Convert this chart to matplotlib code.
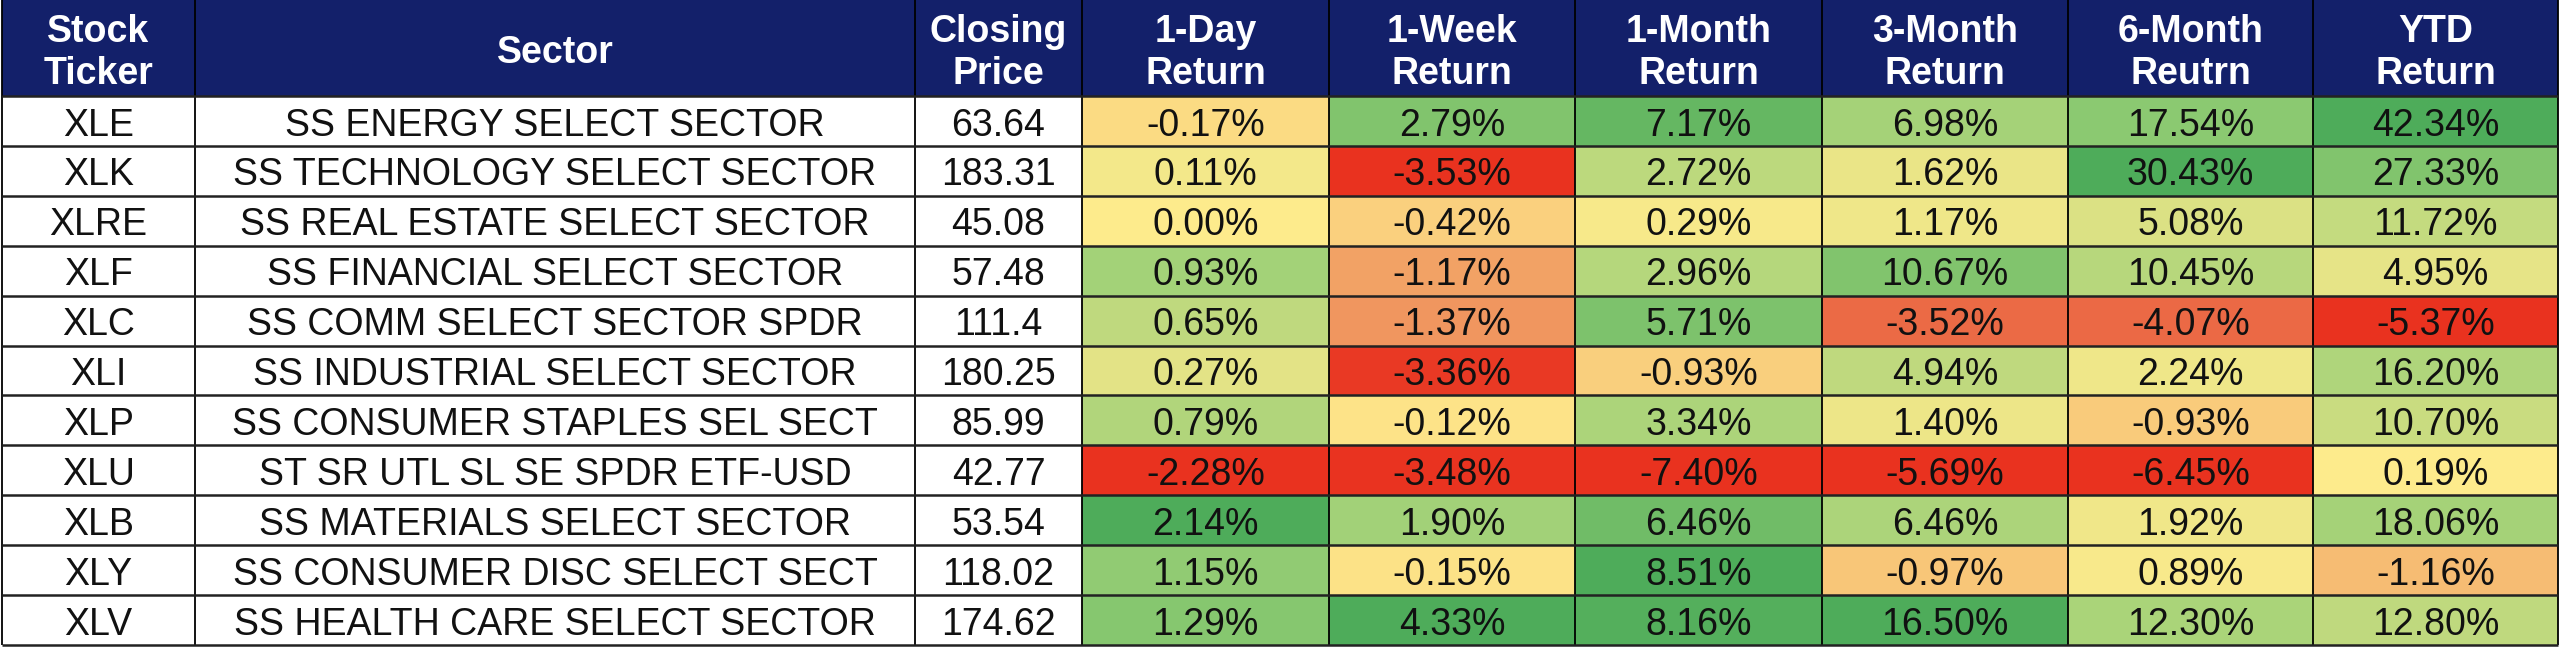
import matplotlib.pyplot as plt
from matplotlib.colors import LinearSegmentedColormap, TwoSlopeNorm
from matplotlib.patches import Rectangle

plt.rcParams['font.family'] = ['Liberation Sans', 'DejaVu Sans']

# table data
headers = ["Stock\nTicker", "Sector", "Closing\nPrice", "1-Day\nReturn", "1-Week\nReturn",
           "1-Month\nReturn", "3-Month\nReturn", "6-Month\nReutrn", "YTD\nReturn"]
tickers = ["XLE", "XLK", "XLRE", "XLF", "XLC", "XLI", "XLP", "XLU", "XLB", "XLY", "XLV"]
sectors = ["SS ENERGY SELECT SECTOR", "SS TECHNOLOGY SELECT SECTOR", "SS REAL ESTATE SELECT SECTOR",
           "SS FINANCIAL SELECT SECTOR", "SS COMM SELECT SECTOR SPDR", "SS INDUSTRIAL SELECT SECTOR",
           "SS CONSUMER STAPLES SEL SECT", "ST SR UTL SL SE SPDR ETF-USD", "SS MATERIALS SELECT SECTOR",
           "SS CONSUMER DISC SELECT SECT", "SS HEALTH CARE SELECT SECTOR"]
prices = [63.64, 183.31, 45.08, 57.48, 111.4, 180.25, 85.99, 42.77, 53.54, 118.02, 174.62]
ret_1d = [-0.17, 0.11, 0.00, 0.93, 0.65, 0.27, 0.79, -2.28, 2.14, 1.15, 1.29]
ret_1w = [2.79, -3.53, -0.42, -1.17, -1.37, -3.36, -0.12, -3.48, 1.90, -0.15, 4.33]
ret_1m = [7.17, 2.72, 0.29, 2.96, 5.71, -0.93, 3.34, -7.40, 6.46, 8.51, 8.16]
ret_3m = [6.98, 1.62, 1.17, 10.67, -3.52, 4.94, 1.40, -5.69, 6.46, -0.97, 16.50]
ret_6m = [17.54, 30.43, 5.08, 10.45, -4.07, 2.24, -0.93, -6.45, 1.92, 0.89, 12.30]
ret_ytd = [42.34, 27.33, 11.72, 4.95, -5.37, 16.20, 10.70, 0.19, 18.06, -1.16, 12.80]
returns = [ret_1d, ret_1w, ret_1m, ret_3m, ret_6m, ret_ytd]

# layout in pixels
W, H = 2560, 647
col_edges = [2, 195, 915, 1082, 1329, 1575, 1822, 2068, 2313, 2558]
head_h = 96
row_h = (645 - head_h) / len(tickers)
navy = "#13206A"
fs = 27  # ~37.5 px

# red - yellow - green scale, centred on zero for each column
cmap = LinearSegmentedColormap.from_list(
    "ryg", [(0.0, "#E9321F"), (0.25, "#EC7D52"), (0.5, "#FEEB8C"),
            (0.75, "#96CE75"), (1.0, "#4EAC5A")])

fig = plt.figure(figsize=(W / 100, H / 100), dpi=100)
ax = fig.add_axes([0, 0, 1, 1])
ax.set_xlim(0, W)
ax.set_ylim(H, 0)
ax.axis("off")

# header
for j, lab in enumerate(headers):
    x0, x1 = col_edges[j], col_edges[j + 1]
    ax.add_patch(Rectangle((x0, 0), x1 - x0, head_h, facecolor=navy, edgecolor="none"))
    lines = lab.split("\n")
    bases = [42, 84] if len(lines) == 2 else [63]
    for line, yb in zip(lines, bases):
        ax.text((x0 + x1) / 2, yb, line, color="white", fontsize=fs, fontweight="bold",
                ha="center", va="baseline")

# body
for i in range(len(tickers)):
    y0 = head_h + i * row_h
    yb = y0 + 39.5
    texts = [tickers[i], sectors[i], f"{prices[i]:g}"]
    for j, t in enumerate(texts):
        x0, x1 = col_edges[j], col_edges[j + 1]
        ax.add_patch(Rectangle((x0, y0), x1 - x0, row_h, facecolor="white", edgecolor="none"))
        ax.text((x0 + x1) / 2, yb, t, color="#111111", fontsize=fs, ha="center", va="baseline")
    for k, vals in enumerate(returns):
        j = k + 3
        x0, x1 = col_edges[j], col_edges[j + 1]
        norm = TwoSlopeNorm(vcenter=0, vmin=min(vals), vmax=max(vals))
        ax.add_patch(Rectangle((x0, y0), x1 - x0, row_h, facecolor=cmap(norm(vals[i])),
                               edgecolor="none"))
        ax.text((x0 + x1) / 2, yb, f"{vals[i]:.2f}%", color="#111111", fontsize=fs,
                ha="center", va="baseline")

# grid lines
bottom = head_h + len(tickers) * row_h
for x in col_edges:
    ax.plot([x, x], [0, bottom], color="black", lw=1.3, solid_capstyle="butt")
for i in range(len(tickers) + 1):
    y = head_h + i * row_h
    ax.plot([col_edges[0], col_edges[-1]], [y, y], color="#222222", lw=1.8, solid_capstyle="butt")

fig.savefig("out.png", dpi=100, facecolor="white")
